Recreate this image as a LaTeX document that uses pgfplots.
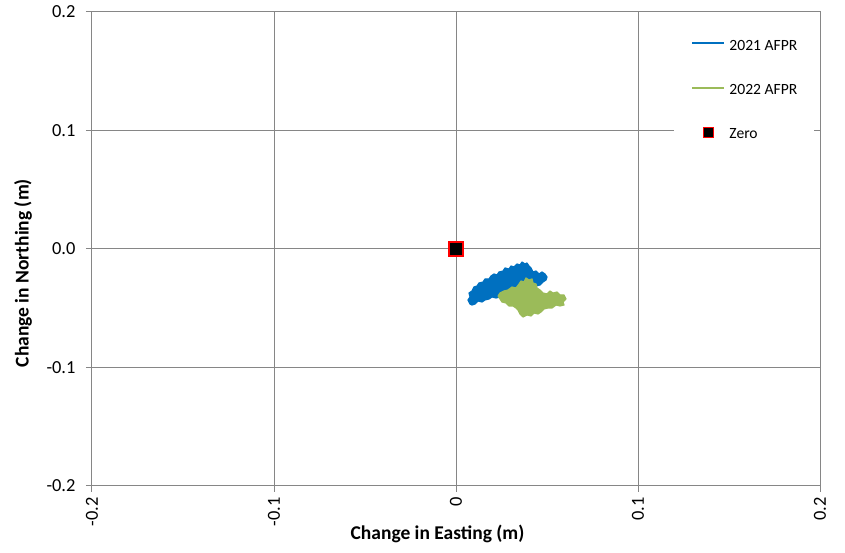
\documentclass[border=0pt]{standalone}
\usepackage{pgfplots}
\pgfplotsset{compat=1.18}
\usepackage{fontspec}
\setmainfont{Carlito}
\definecolor{gridgray}{RGB}{134,134,134}
\definecolor{afprA}{RGB}{0,112,192}
\definecolor{afprB}{RGB}{155,187,89}
\definecolor{zeroedge}{RGB}{255,0,0}
\begin{document}
\begin{tikzpicture}
\begin{axis}[
  scale only axis, width=728pt, height=474pt,
  xmin=-0.2, xmax=0.2, ymin=-0.2, ymax=0.2,
  xtick={-0.2,-0.1,0,0.1,0.2}, xticklabels={-0.2,-0.1,0,0.1,0.2},
  ytick={-0.2,-0.1,0,0.1,0.2}, yticklabels={-0.2,-0.1,0.0,0.1,0.2},
  grid=major, major grid style={gridgray, line width=1pt},
  axis line style={gridgray, line width=1pt},
  tick style={gridgray, line width=1pt},
  tick align=outside, major tick length=6pt,
  xtick pos=left, ytick pos=left,
  ticklabel style={font=\fontsize{18.4}{22}\selectfont, text=black},
  xticklabel style={rotate=90, anchor=east, xshift=-2pt},
  yticklabel style={xshift=-7pt},
  xlabel={\textbf{Change in Easting (m)}},
  ylabel={\textbf{Change in Northing (m)}},
  xlabel style={font=\fontsize{19.5}{23}\selectfont, at={(axis description cs:0.4746,0)}, anchor=north, yshift=-35pt},
  ylabel style={font=\fontsize{19.5}{23}\selectfont, at={(axis description cs:-0.0948,0.449)}, anchor=center},
  legend style={at={(rel axis cs:0.7995,0.982)}, anchor=north west, draw=none, fill=white,
    font=\fontsize{15.6}{19}\selectfont, row sep=17.5pt, column sep=4pt, inner xsep=17pt, inner ysep=6pt,
    nodes={inner sep=0pt},
    cells={anchor=west}},
  legend image code/.code={\path[draw=none,fill=none] (0pt,-8pt) rectangle (32pt,19pt);\draw[#1, fill=none, line width=2.2pt] (0pt,2.5pt) -- (32pt,2.5pt);},
]
\addplot[draw=afprA, fill=afprA, line width=1.2pt, line join=round] coordinates {
(0.00769,-0.04641) (0.00659,-0.04304) (0.00769,-0.04051) (0.00714,-0.03713)
(0.00879,-0.03544) (0.00989,-0.03207) (0.01154,-0.03122) (0.01264,-0.02869)
(0.01484,-0.02785) (0.01593,-0.02532) (0.01813,-0.02532) (0.01923,-0.02278)
(0.02088,-0.02110) (0.02253,-0.02194) (0.02363,-0.01941) (0.02582,-0.01857)
(0.02692,-0.01603) (0.02912,-0.01688) (0.03022,-0.01435) (0.03187,-0.01519)
(0.03352,-0.01266) (0.03516,-0.01350) (0.03626,-0.01097) (0.03791,-0.01266)
(0.03901,-0.01181) (0.04011,-0.01435) (0.04121,-0.01603) (0.04231,-0.01941)
(0.04396,-0.01857) (0.04560,-0.02110) (0.04725,-0.01941) (0.04890,-0.02110)
(0.05000,-0.02363) (0.04945,-0.02616) (0.04780,-0.02785) (0.04615,-0.03038)
(0.04396,-0.03122) (0.04176,-0.03376) (0.03901,-0.03460) (0.03626,-0.03629)
(0.03297,-0.03713) (0.02967,-0.03797) (0.02637,-0.03882) (0.02418,-0.04051)
(0.02198,-0.04135) (0.01978,-0.04051) (0.01813,-0.04219) (0.01593,-0.04304)
(0.01429,-0.04473) (0.01209,-0.04388) (0.01044,-0.04641) (0.00879,-0.04726)
} -- cycle;
\addlegendentry{2021 AFPR}
\addplot[draw=afprB, fill=afprB, line width=1.2pt, line join=round] coordinates {
(0.02418,-0.03713) (0.02637,-0.03544) (0.02857,-0.03460) (0.03077,-0.03207)
(0.03297,-0.03291) (0.03462,-0.02954) (0.03571,-0.02700) (0.03736,-0.02785)
(0.03846,-0.02447) (0.04011,-0.02616) (0.04176,-0.02532) (0.04231,-0.02869)
(0.04396,-0.02954) (0.04451,-0.03291) (0.04615,-0.03460) (0.04780,-0.03713)
(0.05000,-0.03797) (0.05165,-0.03544) (0.05330,-0.03713) (0.05549,-0.03629)
(0.05714,-0.03882) (0.05934,-0.03882) (0.06044,-0.04219) (0.05879,-0.04473)
(0.05934,-0.04726) (0.05714,-0.04810) (0.05495,-0.04726) (0.05275,-0.04979)
(0.05055,-0.04979) (0.04835,-0.05063) (0.04670,-0.05316) (0.04505,-0.05485)
(0.04286,-0.05401) (0.04121,-0.05654) (0.03901,-0.05570) (0.03681,-0.05738)
(0.03516,-0.05485) (0.03407,-0.05148) (0.03297,-0.04979) (0.03132,-0.04810)
(0.02912,-0.04810) (0.02747,-0.04557) (0.02527,-0.04473) (0.02418,-0.04219)
(0.02308,-0.03966)
} -- cycle;
\addlegendentry{2022 AFPR}
\addplot[only marks, mark=square*, mark size=7pt, mark options={draw=zeroedge, fill=black, line width=1.2pt},
  legend image code/.code={\path[draw=none,fill=none] (0pt,-8pt) rectangle (32pt,19pt);\draw[draw=zeroedge, fill=black, line width=1pt] (11pt,-2.5pt) rectangle (21pt,7.5pt);}]
  coordinates {(0,0)};
\addlegendentry{Zero}
\end{axis}
\pgfresetboundingbox
\path (-92pt,-67pt) rectangle (753pt,486pt);
\end{tikzpicture}
\end{document}
